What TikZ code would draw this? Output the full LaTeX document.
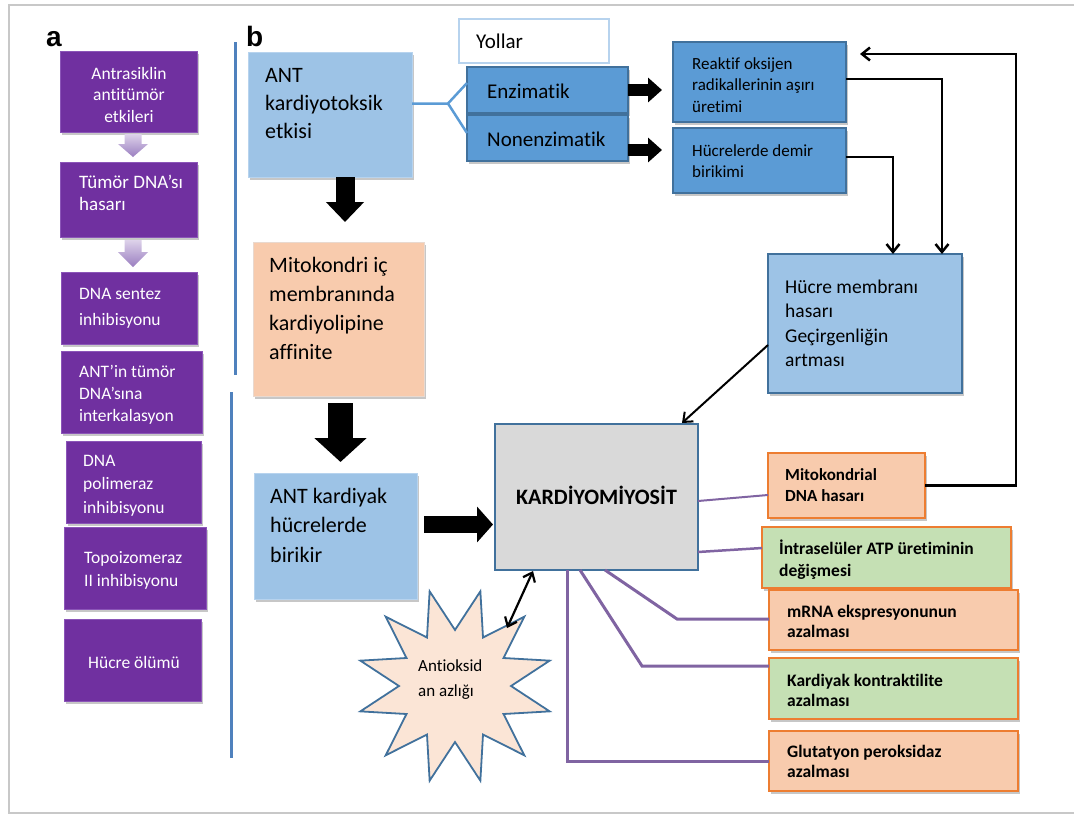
\documentclass[tikz,border=0pt]{standalone}
\usepackage{fontspec}
\setmainfont{Carlito}[Ligatures=NoCommon]
\newfontfamily\labfont{Liberation Sans}
\usetikzlibrary{shapes.geometric,arrows.meta,calc,shadows}
\definecolor{purp}{HTML}{7030A0}
\definecolor{purpedge}{HTML}{8B55B8}
\definecolor{lblue}{HTML}{9DC3E6}
\definecolor{lbluedge}{HTML}{B7D3EE}
\definecolor{mblue}{HTML}{5B9BD5}
\definecolor{sepblue}{HTML}{4F81BD}
\definecolor{bblue}{HTML}{41719C}
\definecolor{peach}{HTML}{F8CBAD}
\definecolor{peachedge}{HTML}{E9D9CF}
\definecolor{lgreen}{HTML}{C5E0B4}
\definecolor{orng}{HTML}{ED7D31}
\definecolor{kgray}{HTML}{D9D9D9}
\definecolor{starfill}{HTML}{FBE5D6}
\definecolor{lpurp}{HTML}{8064A2}
\definecolor{framegray}{HTML}{C8C8C8}
\definecolor{arrtop}{HTML}{DDD2EA}
\definecolor{arrbot}{HTML}{9A7EC0}
\newcommand\fz[2]{\fontsize{#1}{#2}\selectfont}
\begin{document}
\begin{tikzpicture}[x=1pt,y=-1pt,
  shd/.style={drop shadow={shadow xshift=2pt,shadow yshift=-3pt,opacity=0.22,fill=black}},
  bx/.style={rectangle,inner sep=0pt,outer sep=0pt},
  pbox/.style={bx,fill=purp,draw=purpedge,line width=0.8pt,shd},
  tl/.style={anchor=north west,inner sep=0pt,align=left},
  ptxt/.style={tl,text=white,font=\fz{17.5}{21.5}},
  obox/.style={bx,draw=orng,line width=2.4pt,shd},
  thinarr/.style={draw=black,line width=2.5pt,-{Straight Barb[length=8pt,width=13pt]}},
  blk/.style n args={3}{draw=black,line width=#1,-{Triangle[length=#2,width=#3]}},
  pline/.style={draw=lpurp,line width=3pt},
]
\useasboundingbox (0,0) rectangle (1074,814);
% frame
\draw[framegray,line width=2.5pt] (1074,5) -- (9,5) -- (9,813) -- (1074,813);
% labels
\node[anchor=base,inner sep=0pt,font={\labfont\bfseries\fontsize{28}{30}\selectfont}] (la) at (54,46) {a};
\node[anchor=base west,inner sep=0pt,font={\labfont\bfseries\fontsize{28}{30}\selectfont}] (lb) at (246,46.5) {b};
% separator lines
\draw[sepblue,line width=3pt] (235,42) -- (235,375);
\draw[sepblue,line width=3pt] (231,392) -- (231,758);

% ---------------- panel a ----------------
\node[pbox,minimum width=137pt,minimum height=81pt] (a1) at (128.5,91.5) {};
\node[pbox,minimum width=137pt,minimum height=75pt] (a2) at (128.5,199.5) {};
\node[pbox,minimum width=136pt,minimum height=72pt] (a3) at (129,308) {};
\node[pbox,minimum width=141pt,minimum height=82pt] (a4) at (131.5,392) {};
\node[pbox,minimum width=135pt,minimum height=82pt] (a5) at (133.5,482) {};
\node[pbox,minimum width=142pt,minimum height=82pt] (a6) at (135,568) {};
\node[pbox,minimum width=137pt,minimum height=82pt] (a7) at (132.5,660) {};

\node[ptxt,anchor=north,align=center] (a1t) at (129,64) {\strut Antrasiklin\\antitümör\\etkileri};
\node[ptxt,font=\fz{19}{22}] (a2t) at (79,172.6) {\strut Tümör DNA’sı\\hasarı};
\node[ptxt,font=\fz{17.5}{26}] (a3t) at (79,281) {\strut DNA sentez\\inhibisyonu};
\node[ptxt,font=\fz{17.5}{22}] (a4t) at (79,361.6) {\strut ANT’in tümör\\DNA’sına\\interkalasyon};
\node[ptxt,font=\fz{17.5}{23.5}] (a5t) at (83,449.5) {\strut DNA\\polimeraz\\inhibisyonu};
\node[ptxt,font=\fz{17.5}{23}] (a6t) at (84,547) {\strut Topoizomeraz\\II inhibisyonu};
\node[ptxt,anchor=north,align=center] (a7t) at (134,653) {\strut Hücre ölümü};

\shade[top color=arrtop,bottom color=arrbot]
  ($(a1.south)+(-4,2)$) -- ++(0,10) -- ++(-6.5,0) -- ++(15,13) -- ++(15,-13) -- ++(-6.5,0) -- ++(0,-10) -- cycle;
\shade[top color=arrtop,bottom color=arrbot]
  ($(a2.south)+(-4,3)$) -- ++(0,12) -- ++(-6.5,0) -- ++(15,15) -- ++(15,-15) -- ++(-6.5,0) -- ++(0,-12) -- cycle;

% ---------------- panel b ----------------
\node[bx,fill=lblue,draw=lbluedge,line width=1pt,shd,minimum width=164pt,minimum height=125pt] (ant) at (330,114.5) {};
\node[bx,fill=white,draw=lbluedge,line width=1.2pt,minimum width=150pt,minimum height=44pt] (yol) at (534,41) {};
\node[bx,fill=mblue,draw=bblue,line width=1.6pt,shd,minimum width=161pt,minimum height=46pt] (enz) at (547.5,90) {};
\node[bx,fill=mblue,draw=bblue,line width=1.6pt,shd,minimum width=161pt,minimum height=46pt] (nonenz) at (547.5,138) {};
\node[bx,fill=mblue,draw=bblue,line width=1.6pt,shd,minimum width=173pt,minimum height=80pt] (reak) at (759.5,82) {};
\node[bx,fill=mblue,draw=bblue,line width=1.6pt,shd,minimum width=173pt,minimum height=65pt] (hucdem) at (759.5,160.5) {};
\node[bx,fill=peach,draw=peachedge,line width=1pt,shd,minimum width=171pt,minimum height=154pt] (mito) at (338.5,319) {};
\node[bx,fill=lblue,draw=lbluedge,line width=1pt,shd,minimum width=163pt,minimum height=126pt] (antk) at (335.5,536) {};
\node[bx,fill=kgray,draw=bblue,line width=2pt,minimum width=203pt,minimum height=146pt] (kardio) at (596.5,497) {};
\node[bx,fill=lblue,draw=bblue,line width=1.8pt,shd,minimum width=194pt,minimum height=139pt] (hmem) at (865,323.5) {};
\node[obox,fill=peach,minimum width=157pt,minimum height=65pt] (mdna) at (846.5,485.5) {};
\node[obox,fill=lgreen,minimum width=249pt,minimum height=61pt] (atp) at (886.5,557.5) {};
\node[obox,fill=peach,minimum width=249pt,minimum height=60pt] (mrna) at (893.5,620) {};
\node[obox,fill=lgreen,minimum width=249pt,minimum height=61pt] (kont) at (893.5,688.5) {};
\node[obox,fill=peach,minimum width=249pt,minimum height=60pt] (glut) at (893.5,761) {};
\node[star,star points=12,star point ratio=1.75,minimum size=196pt,shape border rotate=15,
      fill=starfill,draw=bblue,line width=1.8pt,inner sep=0pt] (star) at (455,686) {};

% texts panel b
\node[tl,font=\fz{22}{28}] (antT) at (265,62.4) {\strut ANT\\kardiyotoksik\\etkisi};
\node[tl,font=\fz{21}{25}] (yolT) at (476,30.5) {\strut Yollar};
\node[tl,font=\fz{21}{25}] (enzT) at (487,80.5) {\strut Enzimatik};
\node[tl,font=\fz{21}{25}] (nonT) at (487,128.5) {\strut Nonenzimatik};
\node[tl,font=\fz{17}{21.5}] (reakT) at (692,54) {\strut Reaktif oksijen\\radikallerinin aşırı\\üretimi};
\node[tl,font=\fz{17}{21}] (hdT) at (692,141.3) {\strut Hücrelerde demir\\birikimi};
\node[tl,font=\fz{22}{29}] (mitoT) at (269,251.7) {\strut Mitokondri iç\\membranında\\kardiyolipine\\affinite};
\node[tl,font=\fz{22}{29.5}] (antkT) at (270,482.4) {\strut ANT kardiyak\\hücrelerde\\birikir};
\node[anchor=base,inner sep=0pt,font=\fz{22}{26}\bfseries] (kT) at (596.5,504) {KARDİYOMİYOSİT};
\node[tl,font=\fz{19.5}{24.2}] (hmT) at (785,276.6) {\strut Hücre membranı\\hasarı\\Geçirgenliğin\\artması};
\node[tl,font=\fz{17}{21}\bfseries] (mdT) at (785,465.3) {\strut Mitokondrial\\DNA hasarı};
\node[tl,font=\fz{17.5}{22}\bfseries] (atpT) at (779,538.6) {\strut İntraselüler ATP üretiminin\\değişmesi};
\node[tl,font=\fz{17.5}{20.5}\bfseries] (mrT) at (787,602.6) {\strut mRNA ekspresyonunun\\azalması};
\node[tl,font=\fz{17.5}{20.5}\bfseries] (koT) at (787,671.6) {\strut Kardiyak kontraktilite\\azalması};
\node[tl,font=\fz{17.5}{20.5}\bfseries] (glT) at (787,742.6) {\strut Glutatyon peroksidaz\\azalması};
\node[tl,font=\fz{17}{25}] (stT) at (418,653.5) {\strut Antioksid\\an azlığı};

% fork lines
\coordinate (fork) at (448,103.5);
\draw[mblue,line width=2.5pt] ($(ant.east)+(0,-11)$) -- (fork) -- ($(enz.west)+(0,-7)$);
\draw[mblue,line width=2.5pt] (fork) -- ($(nonenz.west)+(0,-5)$);

% block arrows
\draw[blk={12pt}{14pt}{24pt}] (enz.east) -- ($(reak.west)+(-11,8)$);
\draw[blk={12pt}{14pt}{24pt}] ($(nonenz.east)+(0,12)$) -- ($(hucdem.west)+(-11,-10.5)$);
\draw[blk={19pt}{20pt}{37pt}] ($(ant.south)+(15,0)$) -- ($(mito.north)+(6.5,-20)$);
\draw[blk={25pt}{24pt}{51pt}] ($(mito.south)+(2,7)$) -- ($(antk.north)+(5,-11)$);
\draw[blk={17pt}{16pt}{35pt}] ($(antk.east)+(7,-11.5)$) -- ($(kardio.west)+(-2,27.5)$);

% thin arrows
\draw[thinarr] ($(reak.east)+(0,-3)$) -| ($(hmem.north east)+(-20,0)$);
\draw[thinarr] ($(hucdem.east)+(0,-3.5)$) -| ($(hmem.north)+(28,0)$);
\draw[thinarr] (mdna.east) -- ++(91,0) |- ($(reak.north east)+(14,12)$);
\draw[thinarr,line width=2pt] ($(hmem.west)+(0,21.5)$) -- ($(kardio.north east)+(-16,-1)$);
\draw[draw=black,line width=2.2pt,{Straight Barb[length=8pt,width=13pt]}-{Straight Barb[length=8pt,width=13pt]}]
  ($(star.center)+(52,-58)$) -- ($(kardio.south west)+(38,1)$);

% purple connectors
\draw[pline,line width=2pt] ($(kardio.east)+(0,4)$) -- ($(mdna.west)+(0,9.5)$);
\draw[pline,line width=2.5pt] ($(kardio.east)+(0,55)$) -- ($(atp.west)+(0,-9.5)$);
\draw[pline] ($(kardio.south)+(8.5,0)$) -- ($(mrna.west)+(-92,-1)$) -- ($(mrna.west)+(0,-1)$);
\draw[pline] ($(kardio.south)+(-16.5,0)$) -- ($(kont.west)+(-127,-22.5)$) -- ($(kont.west)+(0,-22.5)$);
\draw[pline] ($(kardio.south)+(-29.5,0)$) |- (glut.west);
\end{tikzpicture}
\end{document}
